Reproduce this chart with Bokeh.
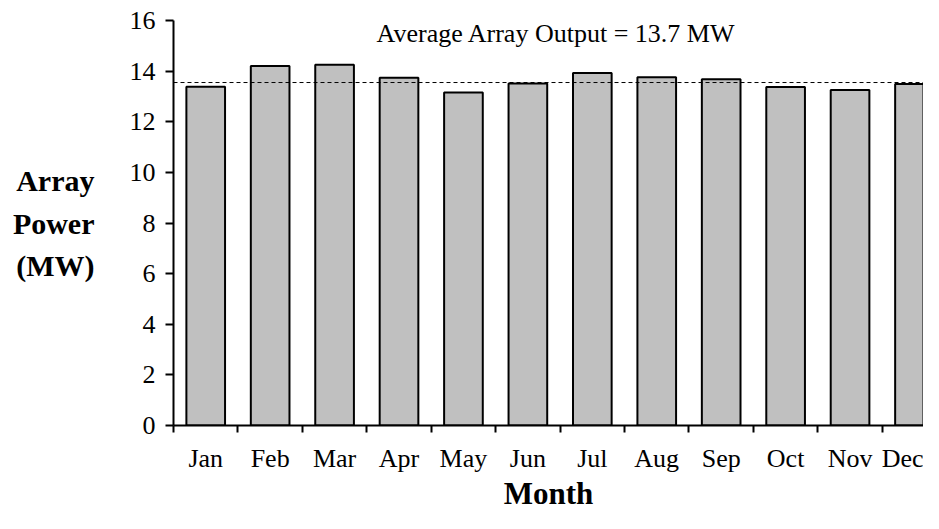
from bokeh.plotting import figure
from bokeh.models import Range1d, FixedTicker, Span, Label, ColumnDataSource
from bokeh.embed import file_html
from bokeh.resources import INLINE

months = ["Jan", "Feb", "Mar", "Apr", "May", "Jun", "Jul", "Aug", "Sep", "Oct", "Nov", "Dec"]
power_mw = [13.38, 14.2, 14.25, 13.74, 13.16, 13.51, 13.93, 13.76, 13.68, 13.37, 13.25, 13.49]
avg_line = 13.55
avg_text = "Average Array Output = 13.7 MW"
y_ticks = [0, 2, 4, 6, 8, 10, 12, 14, 16]
y_label = "Array\nPower\n(MW)"
x_label = "Month"

FONT = "Liberation Serif"

centers = [i + 0.5 for i in range(len(months))]
src = ColumnDataSource(dict(x=centers, top=power_mw, month=months))

p = figure(width=923, height=513, output_backend="svg", toolbar_location=None,
           x_range=Range1d(0, 11.64), y_range=Range1d(0, 16),
           min_border_left=173, min_border_right=0, min_border_top=20,
           min_border_bottom=82)
p.outline_line_color = None
p.xgrid.grid_line_color = None
p.ygrid.grid_line_color = None
p.background_fill_color = "white"
p.border_fill_color = "white"

p.vbar(x="x", top="top", width=0.6, bottom=0, source=src,
       fill_color="#c0c0c0", line_color="black", line_width=2)

p.add_layout(Span(location=avg_line, dimension="width", line_color="black",
                  line_width=1, line_dash="4 3"))

# x axis
xa = p.xaxis[0]
xa.ticker = FixedTicker(ticks=centers, minor_ticks=list(range(len(months) + 1)))
xa.major_label_overrides = {c: m for c, m in zip(centers, months)}
xa.major_tick_line_color = None
xa.minor_tick_line_color = "black"
xa.minor_tick_line_width = 2
xa.minor_tick_out = 7
xa.minor_tick_in = 0
xa.axis_line_width = 2
xa.axis_line_color = "black"
xa.major_label_text_font = FONT
xa.major_label_text_font_size = "26px"
xa.major_label_text_color = "black"
xa.major_label_standoff = 11
xa.axis_label = x_label
xa.axis_label_text_font = FONT
xa.axis_label_text_font_size = "31px"
xa.axis_label_text_font_style = "bold"
xa.axis_label_text_color = "black"
xa.axis_label_standoff = 0

# y axis
ya = p.yaxis[0]
ya.ticker = FixedTicker(ticks=y_ticks)
ya.minor_tick_line_color = None
ya.major_tick_line_color = "black"
ya.major_tick_line_width = 2
ya.major_tick_out = 8
ya.major_tick_in = 0
ya.axis_line_width = 2
ya.axis_line_color = "black"
ya.major_label_text_font = FONT
ya.major_label_text_font_size = "26px"
ya.major_label_text_color = "black"
ya.major_label_standoff = 10
ya.axis_label = y_label
ya.axis_label_orientation = "horizontal"
ya.axis_label_text_font = FONT
ya.axis_label_text_font_size = "30px"
ya.axis_label_text_font_style = "bold"
ya.axis_label_text_color = "black"
ya.axis_label_text_line_height = 1.3
ya.axis_label_text_align = "center"
ya.axis_label_standoff = 32

p.add_layout(Label(x=5.94, y=15.49, text=avg_text, text_align="center",
                   text_baseline="middle", text_font=FONT,
                   text_font_size="26px", text_color="black"))

open("out.html", "w").write(file_html(p, INLINE))
